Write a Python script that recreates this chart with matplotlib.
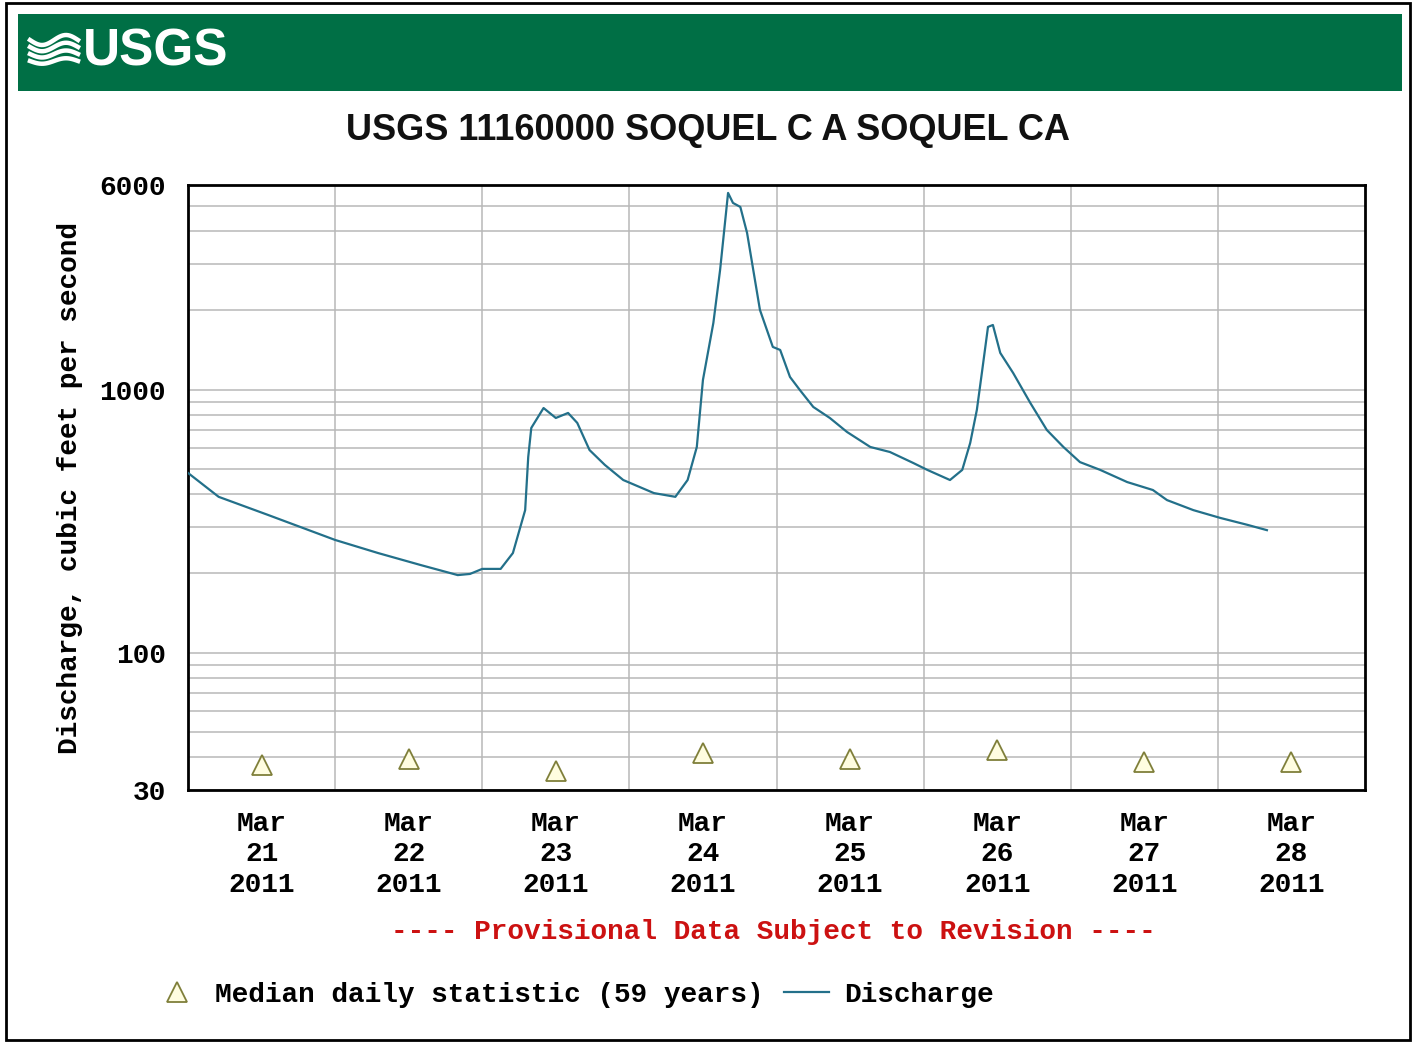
import numpy as np
import matplotlib
matplotlib.use("Agg")
import matplotlib.pyplot as plt
import matplotlib.dates as mdates
from matplotlib.patches import Rectangle
from matplotlib.lines import Line2D
from matplotlib.ticker import FixedLocator, NullFormatter

# ---------------- data ----------------
start = np.datetime64("2011-03-21T00:00")
# discharge, hours since 2011-03-21 00:00 and cfs
q_hours = [0, 5, 13, 24, 31, 38, 44, 46, 48, 51, 53, 55, 55.5, 56, 58, 60, 62, 63.5,
           65.5, 68, 71, 76, 79.5, 81.5, 83, 84, 85.7, 86.8, 88.1, 88.9, 90.1, 91.2,
           93.3, 95.4, 96.6, 98.2, 99.8, 102, 104.7, 107.5, 111.3, 114.5, 118.3, 120.6,
           124.3, 126.3, 127.6, 128.7, 129.5, 130.5, 131.3, 132.5, 134.6, 137.4, 140.1,
           142.8, 145.5, 148.8, 153.2, 157.4, 159.7, 164, 168.4, 172.8, 176]
q_cfs = [482, 391, 334, 268, 239, 215, 197, 199, 208, 208, 239, 348, 554, 715, 851, 780,
         815, 747, 589, 517, 453, 404, 391, 453, 605, 1088, 1793, 2852, 5598, 5128, 4951,
         3943, 2009, 1453, 1415, 1117, 997, 859, 780, 690, 605, 579, 526, 495, 453, 495,
         627, 837, 1157, 1731, 1761, 1379, 1157, 890, 702, 605, 530, 495, 445, 415, 380,
         348, 325, 306, 292]
# median daily statistic (59 years), one per day at noon
median_days = ["2011-03-21", "2011-03-22", "2011-03-23", "2011-03-24",
               "2011-03-25", "2011-03-26", "2011-03-27", "2011-03-28"]
median_cfs = [37.5, 39.5, 35.5, 41.5, 39.5, 42.5, 38.5, 38.5]
day_labels = ["Mar\n21\n2011", "Mar\n22\n2011", "Mar\n23\n2011", "Mar\n24\n2011",
              "Mar\n25\n2011", "Mar\n26\n2011", "Mar\n27\n2011", "Mar\n28\n2011"]
ytick_vals = [30, 100, 1000, 6000]
ytick_labels = ["30", "100", "1000", "6000"]
title = "USGS 11160000 SOQUEL C A SOQUEL CA"

# ---------------- figure ----------------
W, H = 1413, 1042
fig = plt.figure(figsize=(W / 100, H / 100), dpi=100)
fig.patch.set_facecolor("white")

def fx(px):
    return np.asarray(px) / W

def fy(py):
    return 1 - np.asarray(py) / H

sans = ["Liberation Sans", "DejaVu Sans"]
mono = ["Liberation Mono", "DejaVu Sans Mono"]
FS = 20

# outer border
fig.patches.append(Rectangle((fx(6), fy(1040)), fx(1404), (1040 - 3) / H,
                             transform=fig.transFigure, fill=False, edgecolor="black",
                             linewidth=2, zorder=0))
# green header band
fig.patches.append(Rectangle((fx(18), fy(91)), fx(1384), (91 - 14) / H,
                             transform=fig.transFigure, facecolor="#006f45",
                             edgecolor="none", zorder=1))
# USGS logo waves + text
for i, off in enumerate([0, 7, 14, 21]):
    xs = np.linspace(30, 78, 30)
    ys = 40 + off + 5 * np.sin((xs - 30) / 48 * 2 * np.pi) * (1 - i * 0.15)
    fig.lines.append(Line2D(fx(xs), fy(ys), transform=fig.transFigure,
                            color="white", linewidth=3.2, zorder=2))
fig.text(fx(83), fy(52), "USGS", color="white", fontsize=37, fontweight="bold",
         family=sans, va="center", ha="left", zorder=3)

# title
fig.text(fx(708), fy(131), title, fontsize=26, family=sans,
         ha="center", va="center", color="#111111", fontweight="bold")

# ---------------- axes ----------------
ax = fig.add_axes([fx(188), fy(790), fx(1365 - 188), (790 - 185) / H])
t = start + (np.array(q_hours) * 60).astype("timedelta64[m]")
ax.plot(t.astype("datetime64[ms]").astype(object), q_cfs, color="#23708a", linewidth=1.6,
        label="Discharge", zorder=3)
md = (np.array(median_days, dtype="datetime64[D]") + np.timedelta64(12, "h")).astype("datetime64[ms]").astype(object)
ax.plot(md, median_cfs, linestyle="none", marker="^", markersize=15,
        markerfacecolor="#fffde0", markeredgecolor="#7f7f3a", markeredgewidth=1.3,
        label="Median daily statistic (59 years)", zorder=4)

ax.set_yscale("log")
ax.set_ylim(30, 6000)
ax.set_xlim(np.datetime64("2011-03-21T00:00").astype("datetime64[ms]").astype(object),
            np.datetime64("2011-03-29T00:00").astype("datetime64[ms]").astype(object))

# y ticks
ax.yaxis.set_major_locator(FixedLocator(ytick_vals))
ax.set_yticklabels(ytick_labels, family=mono, fontweight="bold", fontsize=FS)
minor_y = [v * m for v in (10, 100, 1000) for m in range(2, 10) if 30 < v * m < 6000]
ax.yaxis.set_minor_locator(FixedLocator(minor_y))
ax.yaxis.set_minor_formatter(NullFormatter())
ax.tick_params(axis="y", which="both", length=0, pad=16)

# x ticks: gridlines at midnight, labels at noon
mid = [(np.datetime64(d, "D") + np.timedelta64(1, "D")).astype("datetime64[ms]").astype(object)
       for d in median_days[:-1]]
ax.xaxis.set_major_locator(FixedLocator(mdates.date2num(md)))
ax.set_xticklabels(day_labels, family=mono, fontweight="bold", fontsize=FS,
                   linespacing=1.22)
ax.xaxis.set_minor_locator(FixedLocator(mdates.date2num(mid)))
ax.tick_params(axis="x", which="both", length=0, pad=15)

ax.grid(False)
ax.grid(True, which="minor", axis="both", color="#b8b8b8", linewidth=1.1)
ax.grid(True, which="major", axis="y", color="#b8b8b8", linewidth=1.1)
for s in ax.spines.values():
    s.set_linewidth(2)
    s.set_color("black")

ax.set_ylabel("Discharge, cubic feet per second", family=mono, fontweight="bold",
              fontsize=FS, labelpad=12)

# provisional note
fig.text(fx(773), fy(932), "---- Provisional Data Subject to Revision ----",
         color="#cc1111", family=mono, fontweight="bold", fontsize=FS,
         ha="center", va="center")

# legend
h, l = ax.get_legend_handles_labels()
leg = fig.legend([h[1], h[0]], [l[1], l[0]], loc="center left",
                 bbox_to_anchor=(fx(155), fy(995)), ncol=2, frameon=False,
                 prop={"family": mono, "weight": "bold", "size": FS},
                 handlelength=1.6, columnspacing=0.75, handletextpad=0.55,
                 borderpad=0, borderaxespad=0, markerscale=0.95)

fig.savefig("out.png", dpi=100)
